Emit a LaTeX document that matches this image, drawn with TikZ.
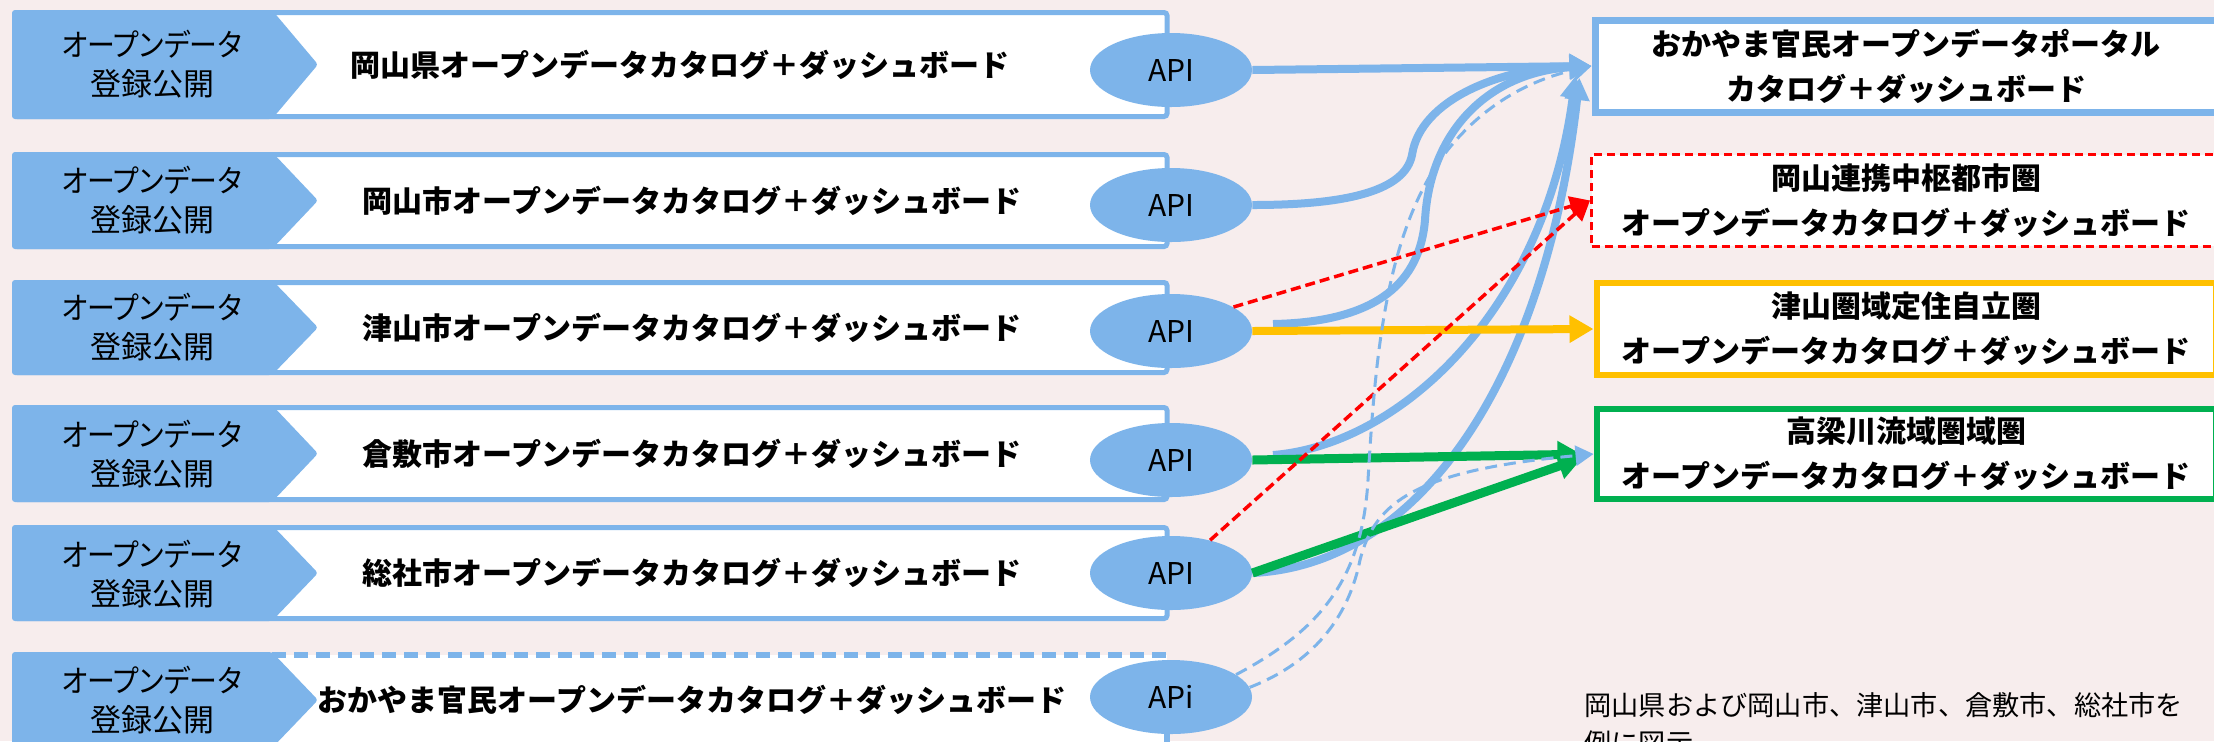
\documentclass[tikz,border=0pt]{standalone}
\usepackage{graphicx}
\usepackage{fontspec}
\setmainfont{Noto Sans CJK JP}
\newfontfamily\jpp[RawFeature=+palt]{Noto Sans CJK JP}
\newcommand\chevtext{\scalebox{0.9}[1]{オープンデータ}\\登録公開}
\usetikzlibrary{shapes.geometric,arrows.meta,calc}
\definecolor{lb}{HTML}{7DB4EA}
\definecolor{bg}{HTML}{F7EDED}
\definecolor{yel}{HTML}{FFC000}
\definecolor{grn}{HTML}{00B050}
\definecolor{rd}{HTML}{FF0000}
\begin{document}
\begin{tikzpicture}[x=0.5pt,y=-0.5pt,
  rowframe/.style={draw=lb, line width=2.5pt, fill=white, rounded corners=1.5pt},
  chev/.style={fill=lb, rounded corners=1.5pt},
  reglbl/.style={font=\jpp\fontsize{15.5pt}{19.5pt}\selectfont, align=center, inner sep=0pt},
  mainlbl/.style={font=\fontsize{15pt}{18pt}\selectfont\bfseries, inner sep=0pt},
  api/.style={ellipse, fill=lb, minimum width=81pt, minimum height=37pt, inner sep=0pt, font=\fontsize{15pt}{18pt}\selectfont},
  tgt/.style={rectangle, fill=white, align=center, inner sep=0pt, font=\fontsize{15pt}{22.5pt}\selectfont\bfseries},
  bconn/.style={draw=lb, line width=4pt, -{Triangle[length=11pt,width=12pt]}},
  bdash/.style={draw=lb, line width=1.5pt, dash pattern=on 6pt off 3.5pt, -{Triangle[length=9pt,width=10pt]}},
  rdash/.style={draw=rd, line width=1.75pt, dash pattern=on 5pt off 2.5pt, -{Triangle[length=10pt,width=10pt]}},
  yconn/.style={draw=yel, line width=4pt, -{Triangle[length=12pt,width=13pt]}},
  gconn/.style={draw=grn, line width=4.5pt, -{Triangle[length=12pt,width=13pt]}, shorten >=6pt},
]
\fill[bg] (0,0) rectangle (2214,741);
\useasboundingbox (0,0) rectangle (2214,741);
\clip (0,0) rectangle (2214,741);

% rows
\foreach \t/\b in {12.5/116.5, 154.5/246.5, 282.5/372.5, 407.5/499.5, 527.5/618.5}{
  \draw[rowframe] (14.5,\t) rectangle (1167,\b);
  \fill[chev] (12,{\t-2.5}) -- (272,{\t-2.5}) -- (318,{(\t+\b)/2}) -- (272,{\b+2.5}) -- (12,{\b+2.5}) -- cycle;
}
\fill[white] (14.5,654.5) rectangle (1167,780);
\draw[lb, line width=3pt, dash pattern=on 7pt off 4pt] (272,654.5) -- (1167,654.5) -- (1167,780);
\fill[chev] (12,652) -- (272,652) -- (318,700) -- (272,748) -- (12,748) -- cycle;

% left labels
\node[reglbl] (c1) at (152,64.5) {\chevtext};
\node[reglbl] (c2) at (152,200.5) {\chevtext};
\node[reglbl] (c3) at (152,327.5) {\chevtext};
\node[reglbl] (c4) at (152,454.5) {\chevtext};
\node[reglbl] (c5) at (152,574) {\chevtext};
\node[reglbl] (c6) at (152,700) {\chevtext};

\node[mainlbl] (m1) at (680,64.5) {岡山県オープンデータカタログ＋ダッシュボード};
\node[mainlbl] (m2) at (692,200.5) {岡山市オープンデータカタログ＋ダッシュボード};
\node[mainlbl] (m3) at (692,327.5) {津山市オープンデータカタログ＋ダッシュボード};
\node[mainlbl] (m4) at (692,453.5) {倉敷市オープンデータカタログ＋ダッシュボード};
\node[mainlbl] (m5) at (692,573) {総社市オープンデータカタログ＋ダッシュボード};
\node[mainlbl] (m6) at (692,700) {おかやま官民オープンデータカタログ＋ダッシュボード};

% API ellipses
\node[api] (api1) at (1171,70) {API};
\node[api] (api2) at (1171,205) {API};
\node[api] (api3) at (1171,331) {API};
\node[api] (api4) at (1171,460) {API};
\node[api] (api5) at (1171,573) {API};
\node[api] (api6) at (1171,697) {APi};

% target boxes
\node[tgt, draw=lb, line width=3.5pt, minimum width=311pt, minimum height=46pt] (b1) at (1906,66) {おかやま官民オープンデータポータル\\カタログ＋ダッシュボード};
\node[tgt, draw=rd, line width=1.5pt, dash pattern=on 4pt off 2.5pt, minimum width=314.5pt, minimum height=45.75pt] (b2) at (1906,200.5) {岡山連携中枢都市圏\\オープンデータカタログ＋ダッシュボード};
\node[tgt, draw=yel, line width=3pt, minimum width=309.5pt, minimum height=46pt] (b3) at (1906,329) {津山圏域定住自立圏\\オープンデータカタログ＋ダッシュボード};
\node[tgt, draw=grn, line width=3pt, minimum width=309.5pt, minimum height=45pt] (b4) at (1906,454) {高梁川流域圏域圏\\オープンデータカタログ＋ダッシュボード};

\node[anchor=north west, inner sep=0pt, align=left, font=\fontsize{13.6pt}{19pt}\selectfont] (note) at (1584,692) {岡山県および岡山市、津山市、倉敷市、総社市を\\例に図示};

% connectors
\coordinate (s3) at (1273,324);
\coordinate (s4) at (1273,455);
\draw[bconn] (api1.east) -- (b1.west);
\draw[bconn] (api2.east) .. controls (1350,205) and (1405,190) .. (1412,155) .. controls (1420,100) and (1500,68) .. (b1.west);
\draw[bconn] (s3) .. controls (1380,322) and (1420,280) .. (1425,220) .. controls (1430,130) and (1490,72) .. (b1.west);
\draw[bconn] (s4) .. controls (1400,445) and (1545,310) .. ($(b1.west)+(-16,10)$);
\draw[bconn] (api5.east) .. controls (1420,565) and (1545,380) .. ($(b1.west)+(-12,12)$);
\draw[yconn] (api3.east) -- (b3.west);
\draw[gconn] (api4.east) -- (b4.west);
\draw[gconn] (api5.east) -- (b4.west);
\draw[rdash] (api3.21) -- (b2.west);
\draw[rdash] (api5.40) -- (b2.west);
\draw[bdash] (api6.19) .. controls (1320,630) and (1362,580) .. (1368,480) .. controls (1375,360) and (1385,240) .. (1440,160) .. controls (1480,105) and (1530,80) .. (b1.west);
\draw[bdash] (api6.7) .. controls (1320,660) and (1350,610) .. (1360,560) .. controls (1375,500) and (1420,470) .. (b4.west);
\end{tikzpicture}
\end{document}
